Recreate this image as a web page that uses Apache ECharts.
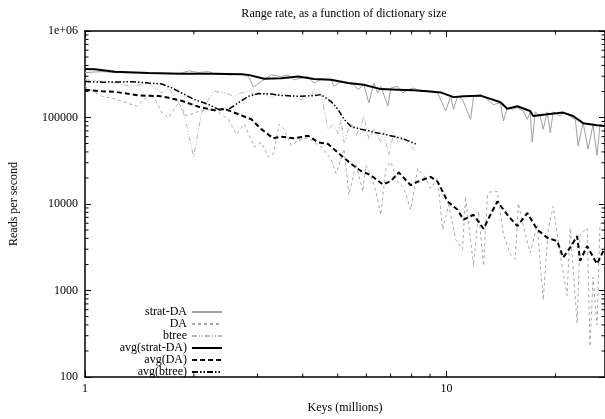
<!DOCTYPE html>
<html>
<head>
<meta charset="utf-8">
<script src="https://cdn.jsdelivr.net/npm/echarts@6/dist/echarts.min.js"></script>
<style>html,body{margin:0;padding:0;background:#fff}#c{width:605px;height:419px}</style>
</head>
<body>
<div id="c"></div>
<script>
// ---- data (keys in millions, reads per second) ----
const seriesNames = ['strat-DA', 'DA', 'btree', 'avg(strat-DA)', 'avg(DA)', 'avg(btree)'];
const yTickValues = [100, 1000, 10000, 100000, 1000000];
const yTickLabels = ['100', '1000', '10000', '100000', '1e+06'];
const xTickValues = [1, 10];
const xTickLabels = ['1', '10'];
const yMinorTicks = [200,300,400,500,600,700,800,900,2000,3000,4000,5000,6000,7000,8000,9000,20000,30000,40000,50000,60000,70000,80000,90000,200000,300000,400000,500000,600000,700000,800000,900000];
const xMinorTicks = [2,3,4,5,6,7,8,9,20];

const stratDA = [[1.0,331000],[1.114,339000],[1.21,331000],[1.50,326000],[1.815,320000],[1.934,346000],[2.061,331000],[2.195,339000],[2.281,320000],[2.541,311000],[2.707,317000],[2.83,298000],[2.921,225000],[3.073,261000],[3.275,311000],[3.489,298000],[3.648,311000],[3.789,273000],[3.961,285000],[4.141,298000],[4.302,250000],[4.497,278000],[4.792,273000],[4.884,229000],[5.105,262000],[5.338,250000],[5.545,239000],[5.684,210000],[5.905,239000],[6.096,148000],[6.293,250000],[6.455,192000],[6.579,229000],[6.88,135000],[7.01,219000],[7.328,229000],[7.565,192000],[7.81,210000],[8.112,219000],[8.481,200000],[8.867,200000],[9.446,192000],[9.94,119000],[10.26,176000],[10.45,124000],[10.72,176000],[11.07,161000],[11.65,95000],[11.87,176000],[12.41,184000],[12.97,161000],[13.47,141000],[14.09,148000],[14.36,91000],[14.72,130000],[15.2,124000],[15.69,130000],[16.3,119000],[16.72,95000],[17.03,116000],[17.25,52000],[17.59,116000],[18.16,104000],[18.5,73000],[18.98,116000],[19.34,67000],[19.72,116000],[20.61,104000],[21.01,114000],[21.96,104000],[22.7,95000],[23.1,47000],[23.85,87500],[24.62,43000],[25.41,83000],[26.06,36400],[26.56,83000],[27.42,77000]];

const daRaw = [[1.0,229000],[1.114,176000],[1.21,164000],[1.39,135000],[1.53,192000],[1.63,114000],[1.70,99000],[1.815,148000],[1.91,104000],[2.074,119000],[2.281,124000],[2.493,95000],[2.622,64000],[2.759,83600],[2.94,45500],[3.073,51700],[3.213,34900],[3.317,38000],[3.445,83600],[3.556,73000],[3.718,47300],[3.886,54000],[4.141,58600],[4.302,51700],[4.497,45500],[4.792,33300],[4.946,22500],[5.105,33300],[5.204,43400],[5.37,12700],[5.615,29200],[5.868,13900],[5.98,27900],[6.174,21500],[6.374,13900],[6.579,7510],[6.79,25600],[7.01,30600],[7.328,18100],[7.613,15200],[7.959,8560],[8.321,25600],[8.646,21500],[9.036,15200],[9.446,19700],[9.75,5060],[10.13,9770],[10.59,3890],[11.07,2990],[11.28,12200],[11.87,1930],[12.25,8210],[12.65,1930],[12.97,12700],[13.22,13900],[13.82,13900],[14.36,4440],[15.01,2620],[15.49,2300],[15.79,10200],[16.3,5540],[17.03,2740],[17.81,5770],[18.5,771],[19.1,5060],[19.72,9370],[20.61,2620],[21.54,879],[21.96,5290],[22.96,417],[23.4,4440],[24.46,5290],[24.93,226],[25.41,1420],[26.06,400],[26.56,5770],[27.42,6890]];

const btreeRaw = [[1.0,273000],[1.065,268000],[1.21,250000],[1.347,229000],[1.501,250000],[1.63,192000],[1.703,220000],[1.815,148000],[1.886,104000],[1.997,34900],[2.101,114000],[2.195,161000],[2.281,201000],[2.43,192000],[2.589,176000],[2.707,192000],[2.83,201000],[2.94,184000],[3.133,192000],[3.275,169000],[3.489,192000],[3.718,176000],[3.961,161000],[4.221,176000],[4.302,210000],[4.497,184000],[4.701,73300],[4.884,83600],[5.009,64300],[5.105,95400],[5.204,51700],[5.44,87500],[5.615,61500],[5.794,80000],[5.905,104000],[6.096,56400],[6.293,73300],[6.579,51700],[6.705,67200],[6.92,36400],[7.145,67200],[7.328,51700],[7.613,56400],[7.959,47300],[8.216,39800]];

const avgStratDA = [[1.0,364000],[1.065,361000],[1.21,339000],[1.50,326000],[1.85,320000],[2.28,320000],[2.71,317000],[2.83,311000],[3.13,280000],[3.49,285000],[3.89,298000],[4.30,278000],[4.79,273000],[5.34,250000],[5.9,239000],[6.58,213000],[7.33,210000],[8.11,206000],[9.04,200000],[9.63,195000],[10.45,172000],[11.14,176000],[12.41,179000],[13.22,164000],[14.09,150000],[14.72,126000],[15.69,135000],[17.03,119000],[17.36,104000],[18.98,109000],[21.01,114000],[22.38,104000],[23.85,86000],[26.06,81500],[27.42,80000]];

const avgDA = [[1.0,209900],[1.114,200700],[1.21,198000],[1.409,180000],[1.599,177000],[1.703,169000],[1.85,156000],[2.061,133000],[2.281,121000],[2.43,126000],[2.656,109000],[2.884,95400],[3.073,73300],[3.317,57400],[3.489,60000],[3.789,57400],[4.141,61500],[4.412,51700],[4.701,49400],[5.105,36600],[5.44,29200],[5.794,24100],[6.174,21500],[6.663,16800],[7.01,18400],[7.375,23100],[7.959,16500],[8.321,18100],[9.036,20600],[9.446,18100],[10.06,10700],[10.72,8560],[11.14,6590],[11.87,7510],[12.65,5170],[13.22,7510],[13.82,10700],[14.72,7510],[15.69,5540],[16.72,7850],[17.81,5060],[18.98,4070],[20.22,3730],[21.01,2410],[21.96,3130],[22.96,4260],[23.4,2210],[24.46,3260],[26.06,2030],[27.42,3130]];

const avgBtree = [[1.0,261000],[1.114,256000],[1.347,259000],[1.501,250000],[1.63,244000],[1.737,220000],[1.85,192000],[2.01,161000],[2.195,141500],[2.34,124000],[2.493,124000],[2.656,148000],[2.83,176000],[3.015,189000],[3.275,187000],[3.489,180000],[3.886,176000],[4.302,179000],[4.497,184000],[4.792,153000],[5.009,124000],[5.204,95400],[5.44,78600],[5.794,73300],[6.06,70600],[6.293,67200],[6.705,64300],[7.145,60400],[7.613,56400],[8.216,49400]];

const xMax = 27.42;

// ---- chart ----
const FONT = 'Liberation Serif';
function fmt(values, labels) {
  return function (v) {
    for (let i = 0; i < values.length; i++) {
      if (Math.abs(Math.log10(v) - Math.log10(values[i])) < 1e-6) return labels[i];
    }
    return '';
  };
}
function lineSeries(name, data, color, width, dash) {
  return {
    name: name, type: 'line', data: data, symbol: 'none', showSymbol: false,
    animation: false, z: 3,
    lineStyle: { color: color, width: width, type: dash || 'solid' },
    itemStyle: { color: color }
  };
}
function minorTickSeries(data, dir) {
  return {
    type: 'custom', silent: true, animation: false, z: 5,
    data: data,
    renderItem: function (params, api) {
      const cs = params.coordSys;
      const p = api.coord([api.value(0), api.value(1)]);
      const L = 3.5;
      const st = { stroke: '#000', lineWidth: 1 };
      if (dir === 'y') {
        return { type: 'group', children: [
          { type: 'line', shape: { x1: cs.x, y1: p[1], x2: cs.x + L, y2: p[1] }, style: st },
          { type: 'line', shape: { x1: cs.x + cs.width - L, y1: p[1], x2: cs.x + cs.width, y2: p[1] }, style: st }
        ]};
      }
      return { type: 'group', children: [
        { type: 'line', shape: { x1: p[0], y1: cs.y + cs.height, x2: p[0], y2: cs.y + cs.height - L }, style: st },
        { type: 'line', shape: { x1: p[0], y1: cs.y, x2: p[0], y2: cs.y + L }, style: st }
      ]};
    }
  };
}

const chart = echarts.init(document.getElementById('c'), null, { renderer: 'canvas' });
const axisCommon = {
  axisLine: { show: true, lineStyle: { color: '#000', width: 1.5 } },
  axisTick: { show: true, inside: true, length: 6, lineStyle: { color: '#000', width: 1 } },
  splitLine: { show: false },
  minorTick: { show: false }
};
chart.setOption({
  animation: false,
  backgroundColor: '#fff',
  textStyle: { fontFamily: FONT },
  title: {
    text: 'Range rate, as a function of dictionary size',
    left: 344, top: 8, textAlign: 'center', padding: 0,
    textStyle: { fontFamily: FONT, fontSize: 12, fontWeight: 'normal', color: '#000' }
  },
  legend: {
    data: seriesNames, orient: 'vertical', align: 'right',
    right: 382, top: 306, padding: 0, itemGap: 0, itemWidth: 30, itemHeight: 8,
    itemStyle: { opacity: 0, color: 'transparent', borderWidth: 0 },
    textStyle: { fontFamily: FONT, fontSize: 12, color: '#000', lineHeight: 11.5 },
    selectedMode: false
  },
  grid: { left: 83, right: 0, top: 31, bottom: 38, containLabel: false },
  xAxis: [
    Object.assign({}, axisCommon, {
      type: 'log', logBase: 10, min: 1, max: xMax, interval: 1, position: 'bottom',
      name: 'Keys (millions)', nameLocation: 'middle', nameGap: 25,
      nameTextStyle: { fontFamily: FONT, fontSize: 12, color: '#000' },
      axisLabel: { margin: 6, fontFamily: FONT, fontSize: 12, color: '#000', showMaxLabel: false, formatter: fmt(xTickValues, xTickLabels) }
    }),
    Object.assign({}, axisCommon, {
      type: 'log', logBase: 10, min: 1, max: xMax, interval: 1, position: 'top',
      axisLabel: { show: false }
    })
  ],
  yAxis: [
    Object.assign({}, axisCommon, {
      type: 'log', logBase: 10, min: 100, max: 1000000, interval: 1, position: 'left',
      name: 'Reads per second', nameLocation: 'middle', nameGap: 65, nameRotate: 90,
      nameTextStyle: { fontFamily: FONT, fontSize: 12, color: '#000' },
      axisLabel: { margin: 7, fontFamily: FONT, fontSize: 12, color: '#000', formatter: fmt(yTickValues, yTickLabels) }
    }),
    Object.assign({}, axisCommon, {
      type: 'log', logBase: 10, min: 100, max: 1000000, interval: 1, position: 'right',
      axisLabel: { show: false }
    })
  ],
  series: [
    lineSeries(seriesNames[0], stratDA, '#a0a0a0', 1, 'solid'),
    lineSeries(seriesNames[1], daRaw, '#a8a8a8', 1, [3, 3]),
    lineSeries(seriesNames[2], btreeRaw, '#b8b8b8', 1, [5, 2, 1, 2, 1, 2]),
    lineSeries(seriesNames[3], avgStratDA, '#000', 2, 'solid'),
    lineSeries(seriesNames[4], avgDA, '#000', 2, [5, 3]),
    lineSeries(seriesNames[5], avgBtree, '#000', 1.5, [6, 2, 1.5, 2, 1.5, 2]),
    minorTickSeries(yMinorTicks.map(function (v) { return [1, v]; }), 'y'),
    minorTickSeries(xMinorTicks.map(function (v) { return [v, 100]; }), 'x')
  ]
});
</script>
</body>
</html>
